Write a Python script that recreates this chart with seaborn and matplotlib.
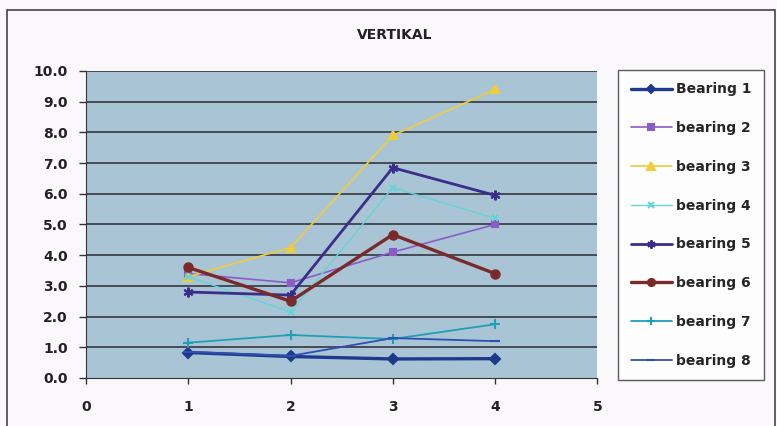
import matplotlib.pyplot as plt
import matplotlib.patches as mpatches
import seaborn as sns
import pandas as pd

x_vals = [1, 2, 3, 4]
names = ["Bearing 1", "bearing 2", "bearing 3", "bearing 4",
         "bearing 5", "bearing 6", "bearing 7", "bearing 8"]
b1 = [0.83, 0.70, 0.62, 0.63]
b2 = [3.4, 3.1, 4.1, 5.0]
b3 = [3.3, 4.25, 7.9, 9.4]
b4 = [3.3, 2.15, 6.2, 5.2]
b5 = [2.8, 2.7, 6.85, 5.95]
b6 = [3.6, 2.5, 4.67, 3.4]
b7 = [1.15, 1.4, 1.27, 1.75]
b8 = [0.85, 0.72, 1.3, 1.2]
y_ticks = [0, 1, 2, 3, 4, 5, 6, 7, 8, 9, 10]
x_ticks = [0, 1, 2, 3, 4, 5]

series = [b1, b2, b3, b4, b5, b6, b7, b8]
colors = ["#1f3a8c", "#8a5cc8", "#f0cc3c", "#62d6d6",
          "#3b2d8a", "#7a2a2a", "#1fa0b8", "#2f4fb0"]
markers = ["D", "s", "^", "x", (6, 2, 0), "o", "+", "_"]
widths = [2.4, 1.2, 1.2, 1.0, 2.0, 2.4, 1.3, 1.3]
msizes = [5, 5, 6, 5, 7, 6, 7, 7]

rows = []
for n, s in zip(names, series):
    for x, y in zip(x_vals, s):
        rows.append({"x": x, "value": y, "series": n})
df = pd.DataFrame(rows)

sns.set_style("white")
plt.rcParams["font.family"] = ["DejaVu Sans"]
plt.rcParams["font.weight"] = "bold"

fig = plt.figure(figsize=(7.77, 4.26), dpi=100, facecolor="#fbf8fb")
ax = fig.add_axes([0.1107, 0.1127, 0.658, 0.7207])
ax.set_facecolor("#a9c4d5")

for i, n in enumerate(names):
    sub = df[df["series"] == n]
    sns.lineplot(data=sub, x="x", y="value", ax=ax, color=colors[i],
                 marker=markers[i], markersize=msizes[i], linewidth=widths[i],
                 markeredgecolor=colors[i], markeredgewidth=1.5, label=n)

ax.set_xlim(0, 5)
ax.set_ylim(0, 10)
ax.set_yticks(y_ticks)
ax.set_yticklabels([f"{v:.1f}" for v in y_ticks], fontsize=10, fontweight="bold", color="#222222")
ax.set_xticks(x_ticks)
ax.set_xticklabels([str(v) for v in x_ticks], fontsize=10, fontweight="bold", color="#222222")
for y in y_ticks[1:]:
    ax.axhline(y, color="#2b2b33", linewidth=1.1, zorder=0.5)
ax.set_xlabel("")
ax.set_ylabel("")
for sp in ax.spines.values():
    sp.set_visible(False)
ax.spines["left"].set_visible(True)
ax.spines["bottom"].set_visible(True)
ax.spines["left"].set_color("#333333")
ax.spines["bottom"].set_color("#333333")
ax.tick_params(axis="y", direction="out", length=5, width=1, color="#333333", pad=8, left=True)
ax.tick_params(axis="x", direction="out", length=4, width=1, color="#333333", pad=12, bottom=True)

ax.get_legend().remove()
handles, labels = ax.get_legend_handles_labels()
leg = fig.legend(handles, labels, loc="upper left",
                 bbox_to_anchor=(618 / 777, 1 - 70 / 426),
                 frameon=True, fancybox=False, edgecolor="#333333",
                 prop={"size": 10, "weight": "bold"}, labelspacing=1.78,
                 handlelength=3.0, handletextpad=0.3, borderpad=0.9,
                 borderaxespad=0, markerscale=0.85)
leg.get_frame().set_linewidth(1)
leg.get_frame().set_facecolor("white")

fig.text(395 / 777, 1 - 35 / 426, "VERTIKAL", ha="center", va="center",
         fontsize=10, fontweight="bold", color="#222222")

border = mpatches.Rectangle((7 / 777, -0.05), 768 / 777, 1.05 - 10 / 426,
                            transform=fig.transFigure, fill=False,
                            edgecolor="#444444", linewidth=1.2, clip_on=False)
fig.patches.append(border)

fig.savefig("out.png", dpi=100, facecolor=fig.get_facecolor())
